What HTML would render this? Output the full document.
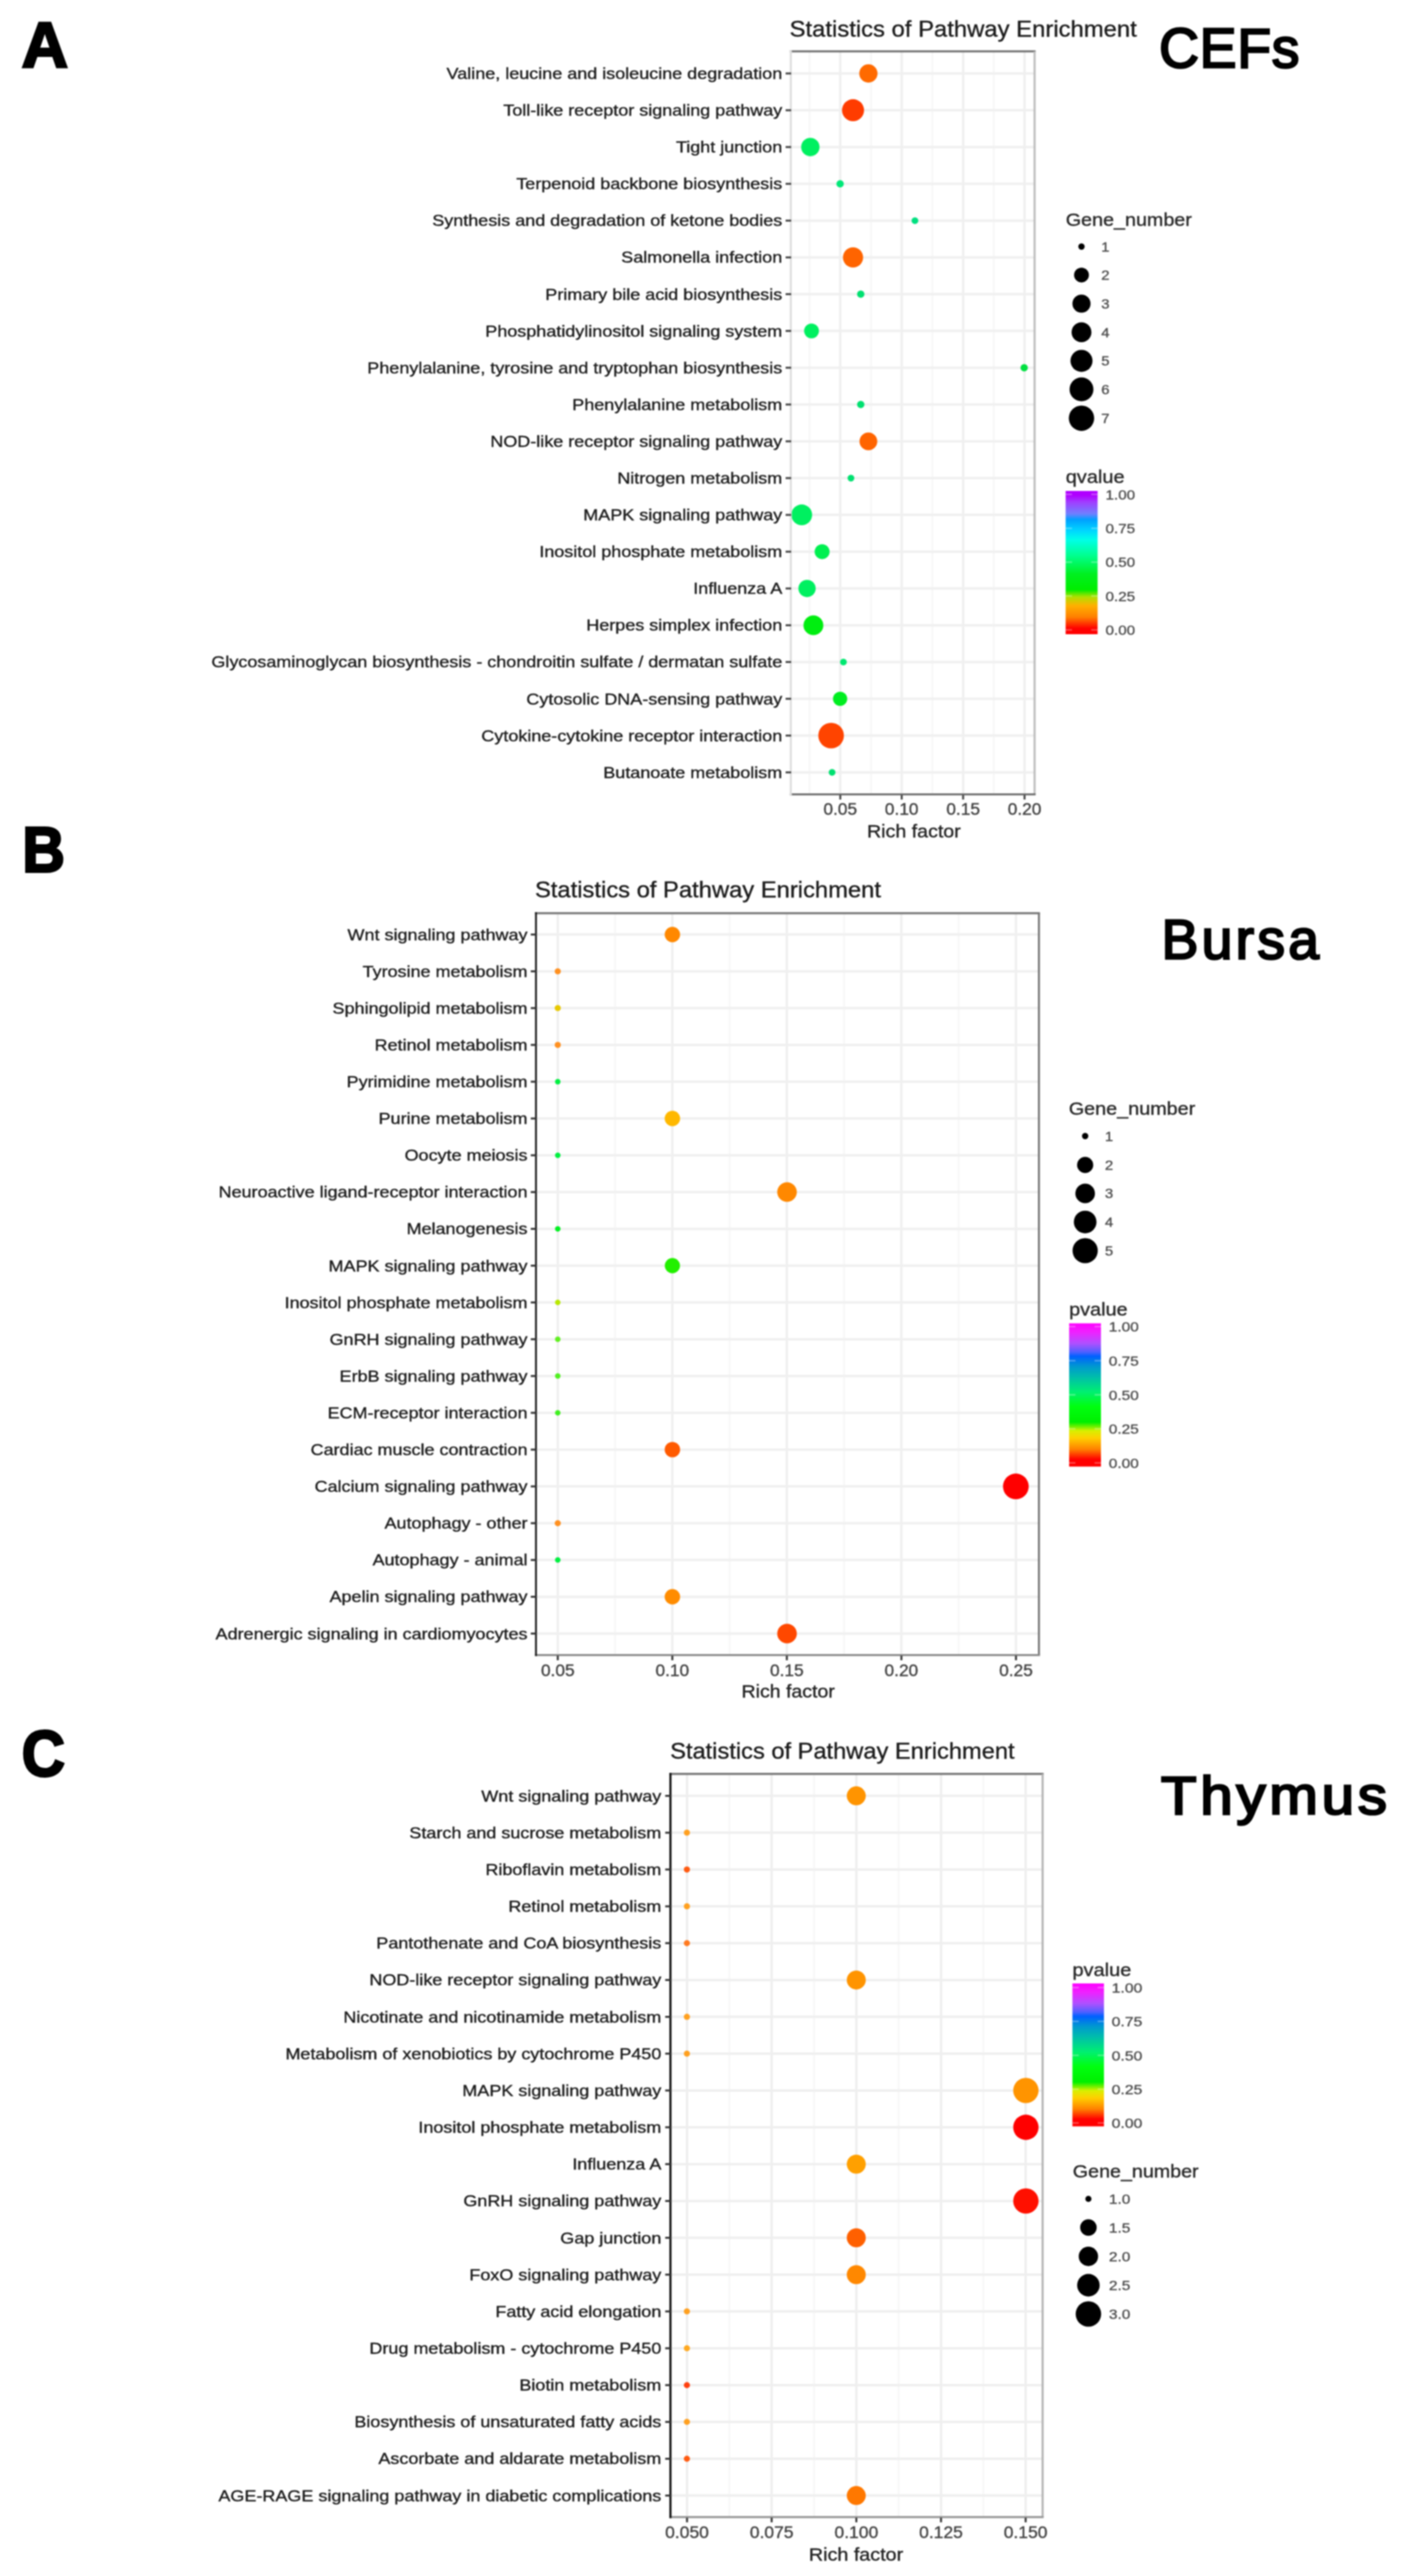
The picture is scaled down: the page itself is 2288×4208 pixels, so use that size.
<!DOCTYPE html>
<html lang="en"><head><meta charset="utf-8"><title>Statistics of Pathway Enrichment</title>
<style>html,body{margin:0;padding:0;background:#fff}body{width:2288px;height:4208px;overflow:hidden}svg{display:block;filter:blur(1px)}text{stroke-width:.5px}</style>
</head><body>
<svg width="2288" height="4208" viewBox="0 0 2288 4208" font-family='"Liberation Sans", sans-serif'>
<rect width="2288" height="4208" fill="#fff"/>
<rect x="1291.5" y="83.9" width="398.0999999999999" height="1213.6999999999998" fill="#fff"/>
<g><line x1="1322.1" y1="83.9" x2="1322.1" y2="1297.6" stroke="#f7f7f7" stroke-width="3"/><line x1="1422.5" y1="83.9" x2="1422.5" y2="1297.6" stroke="#f7f7f7" stroke-width="3"/><line x1="1522.8" y1="83.9" x2="1522.8" y2="1297.6" stroke="#f7f7f7" stroke-width="3"/><line x1="1623.0" y1="83.9" x2="1623.0" y2="1297.6" stroke="#f7f7f7" stroke-width="3"/><line x1="1372.3" y1="83.9" x2="1372.3" y2="1297.6" stroke="#f0f0f0" stroke-width="4"/><line x1="1472.6" y1="83.9" x2="1472.6" y2="1297.6" stroke="#f0f0f0" stroke-width="4"/><line x1="1572.9" y1="83.9" x2="1572.9" y2="1297.6" stroke="#f0f0f0" stroke-width="4"/><line x1="1673.2" y1="83.9" x2="1673.2" y2="1297.6" stroke="#f0f0f0" stroke-width="4"/><line x1="1291.5" y1="120.0" x2="1689.6" y2="120.0" stroke="#f0f0f0" stroke-width="4"/><line x1="1291.5" y1="180.1" x2="1689.6" y2="180.1" stroke="#f0f0f0" stroke-width="4"/><line x1="1291.5" y1="240.2" x2="1689.6" y2="240.2" stroke="#f0f0f0" stroke-width="4"/><line x1="1291.5" y1="300.3" x2="1689.6" y2="300.3" stroke="#f0f0f0" stroke-width="4"/><line x1="1291.5" y1="360.4" x2="1689.6" y2="360.4" stroke="#f0f0f0" stroke-width="4"/><line x1="1291.5" y1="420.5" x2="1689.6" y2="420.5" stroke="#f0f0f0" stroke-width="4"/><line x1="1291.5" y1="480.5" x2="1689.6" y2="480.5" stroke="#f0f0f0" stroke-width="4"/><line x1="1291.5" y1="540.6" x2="1689.6" y2="540.6" stroke="#f0f0f0" stroke-width="4"/><line x1="1291.5" y1="600.7" x2="1689.6" y2="600.7" stroke="#f0f0f0" stroke-width="4"/><line x1="1291.5" y1="660.8" x2="1689.6" y2="660.8" stroke="#f0f0f0" stroke-width="4"/><line x1="1291.5" y1="720.9" x2="1689.6" y2="720.9" stroke="#f0f0f0" stroke-width="4"/><line x1="1291.5" y1="781.0" x2="1689.6" y2="781.0" stroke="#f0f0f0" stroke-width="4"/><line x1="1291.5" y1="841.1" x2="1689.6" y2="841.1" stroke="#f0f0f0" stroke-width="4"/><line x1="1291.5" y1="901.2" x2="1689.6" y2="901.2" stroke="#f0f0f0" stroke-width="4"/><line x1="1291.5" y1="961.3" x2="1689.6" y2="961.3" stroke="#f0f0f0" stroke-width="4"/><line x1="1291.5" y1="1021.4" x2="1689.6" y2="1021.4" stroke="#f0f0f0" stroke-width="4"/><line x1="1291.5" y1="1081.4" x2="1689.6" y2="1081.4" stroke="#f0f0f0" stroke-width="4"/><line x1="1291.5" y1="1141.5" x2="1689.6" y2="1141.5" stroke="#f0f0f0" stroke-width="4"/><line x1="1291.5" y1="1201.6" x2="1689.6" y2="1201.6" stroke="#f0f0f0" stroke-width="4"/><line x1="1291.5" y1="1261.7" x2="1689.6" y2="1261.7" stroke="#f0f0f0" stroke-width="4"/></g>
<g><circle cx="1418.2" cy="120.0" r="14.9" fill="#ff6a00"/><circle cx="1393.1" cy="180.1" r="18" fill="#ff3c00"/><circle cx="1323.4" cy="240.2" r="15" fill="#00f060"/><circle cx="1372.0" cy="300.3" r="6" fill="#00e878"/><circle cx="1494.2" cy="360.4" r="5.5" fill="#00e080"/><circle cx="1393.1" cy="420.5" r="16.5" fill="#ff6400"/><circle cx="1405.7" cy="480.5" r="6" fill="#00e070"/><circle cx="1325.3" cy="540.6" r="12.1" fill="#00f060"/><circle cx="1672.6" cy="600.7" r="6" fill="#00e040"/><circle cx="1405.7" cy="660.8" r="6" fill="#00e070"/><circle cx="1418.2" cy="720.9" r="14.5" fill="#ff6400"/><circle cx="1389.7" cy="781.0" r="5.5" fill="#00e070"/><circle cx="1309.3" cy="841.1" r="17" fill="#00f060"/><circle cx="1342.6" cy="901.2" r="12.2" fill="#00f050"/><circle cx="1318.0" cy="961.3" r="14.1" fill="#00f060"/><circle cx="1328.4" cy="1021.4" r="16.2" fill="#00ee10"/><circle cx="1377.4" cy="1081.4" r="5.5" fill="#00e870"/><circle cx="1372.0" cy="1141.5" r="11.6" fill="#00ee20"/><circle cx="1357.3" cy="1201.6" r="20.9" fill="#ff4400"/><circle cx="1358.9" cy="1261.7" r="5.5" fill="#00e070"/></g>
<line x1="1289.8" y1="83.9" x2="1691.3" y2="83.9" stroke="#6e6e6e" stroke-width="3.4"/>
<line x1="1689.6" y1="83.9" x2="1689.6" y2="1297.6" stroke="#bdbdbd" stroke-width="3.4"/>
<line x1="1289.8" y1="1297.6" x2="1691.3" y2="1297.6" stroke="#6e6e6e" stroke-width="3.4"/>
<line x1="1291.5" y1="82.2" x2="1291.5" y2="1299.3" stroke="#dedede" stroke-width="3.4"/>
<g><line x1="1283.0" y1="120.0" x2="1292.0" y2="120.0" stroke="#444" stroke-width="3.2"/><line x1="1283.0" y1="180.1" x2="1292.0" y2="180.1" stroke="#444" stroke-width="3.2"/><line x1="1283.0" y1="240.2" x2="1292.0" y2="240.2" stroke="#444" stroke-width="3.2"/><line x1="1283.0" y1="300.3" x2="1292.0" y2="300.3" stroke="#444" stroke-width="3.2"/><line x1="1283.0" y1="360.4" x2="1292.0" y2="360.4" stroke="#444" stroke-width="3.2"/><line x1="1283.0" y1="420.5" x2="1292.0" y2="420.5" stroke="#444" stroke-width="3.2"/><line x1="1283.0" y1="480.5" x2="1292.0" y2="480.5" stroke="#444" stroke-width="3.2"/><line x1="1283.0" y1="540.6" x2="1292.0" y2="540.6" stroke="#444" stroke-width="3.2"/><line x1="1283.0" y1="600.7" x2="1292.0" y2="600.7" stroke="#444" stroke-width="3.2"/><line x1="1283.0" y1="660.8" x2="1292.0" y2="660.8" stroke="#444" stroke-width="3.2"/><line x1="1283.0" y1="720.9" x2="1292.0" y2="720.9" stroke="#444" stroke-width="3.2"/><line x1="1283.0" y1="781.0" x2="1292.0" y2="781.0" stroke="#444" stroke-width="3.2"/><line x1="1283.0" y1="841.1" x2="1292.0" y2="841.1" stroke="#444" stroke-width="3.2"/><line x1="1283.0" y1="901.2" x2="1292.0" y2="901.2" stroke="#444" stroke-width="3.2"/><line x1="1283.0" y1="961.3" x2="1292.0" y2="961.3" stroke="#444" stroke-width="3.2"/><line x1="1283.0" y1="1021.4" x2="1292.0" y2="1021.4" stroke="#444" stroke-width="3.2"/><line x1="1283.0" y1="1081.4" x2="1292.0" y2="1081.4" stroke="#444" stroke-width="3.2"/><line x1="1283.0" y1="1141.5" x2="1292.0" y2="1141.5" stroke="#444" stroke-width="3.2"/><line x1="1283.0" y1="1201.6" x2="1292.0" y2="1201.6" stroke="#444" stroke-width="3.2"/><line x1="1283.0" y1="1261.7" x2="1292.0" y2="1261.7" stroke="#444" stroke-width="3.2"/><line x1="1372.3" y1="1298.6" x2="1372.3" y2="1306.1" stroke="#444" stroke-width="3.2"/><line x1="1472.6" y1="1298.6" x2="1472.6" y2="1306.1" stroke="#444" stroke-width="3.2"/><line x1="1572.9" y1="1298.6" x2="1572.9" y2="1306.1" stroke="#444" stroke-width="3.2"/><line x1="1673.2" y1="1298.6" x2="1673.2" y2="1306.1" stroke="#444" stroke-width="3.2"/></g>
<g font-size="26" text-anchor="end" fill="#1a1a1a" stroke="#1a1a1a">
<text transform="translate(1277.5,129.0) scale(1.13,1)">Valine, leucine and isoleucine degradation</text>
<text transform="translate(1277.5,189.1) scale(1.13,1)">Toll-like receptor signaling pathway</text>
<text transform="translate(1277.5,249.2) scale(1.13,1)">Tight junction</text>
<text transform="translate(1277.5,309.2) scale(1.13,1)">Terpenoid backbone biosynthesis</text>
<text transform="translate(1277.5,369.3) scale(1.13,1)">Synthesis and degradation of ketone bodies</text>
<text transform="translate(1277.5,429.4) scale(1.13,1)">Salmonella infection</text>
<text transform="translate(1277.5,489.5) scale(1.13,1)">Primary bile acid biosynthesis</text>
<text transform="translate(1277.5,549.6) scale(1.13,1)">Phosphatidylinositol signaling system</text>
<text transform="translate(1277.5,609.7) scale(1.13,1)">Phenylalanine, tyrosine and tryptophan biosynthesis</text>
<text transform="translate(1277.5,669.8) scale(1.13,1)">Phenylalanine metabolism</text>
<text transform="translate(1277.5,729.9) scale(1.13,1)">NOD-like receptor signaling pathway</text>
<text transform="translate(1277.5,790.0) scale(1.13,1)">Nitrogen metabolism</text>
<text transform="translate(1277.5,850.1) scale(1.13,1)">MAPK signaling pathway</text>
<text transform="translate(1277.5,910.1) scale(1.13,1)">Inositol phosphate metabolism</text>
<text transform="translate(1277.5,970.2) scale(1.13,1)">Influenza A</text>
<text transform="translate(1277.5,1030.3) scale(1.13,1)">Herpes simplex infection</text>
<text transform="translate(1277.5,1090.4) scale(1.13,1)">Glycosaminoglycan biosynthesis - chondroitin sulfate / dermatan sulfate</text>
<text transform="translate(1277.5,1150.5) scale(1.13,1)">Cytosolic DNA-sensing pathway</text>
<text transform="translate(1277.5,1210.6) scale(1.13,1)">Cytokine-cytokine receptor interaction</text>
<text transform="translate(1277.5,1270.7) scale(1.13,1)">Butanoate metabolism</text>
</g>
<g font-size="27" fill="#404040" stroke="#404040">
<text x="1344.8" y="1331" textLength="55" lengthAdjust="spacingAndGlyphs">0.05</text>
<text x="1445.1" y="1331" textLength="55" lengthAdjust="spacingAndGlyphs">0.10</text>
<text x="1545.4" y="1331" textLength="55" lengthAdjust="spacingAndGlyphs">0.15</text>
<text x="1645.7" y="1331" textLength="55" lengthAdjust="spacingAndGlyphs">0.20</text>
</g>
<text x="1416.0" y="1367.5" font-size="29" text-anchor="start" fill="#222" stroke="#222" font-weight="normal" textLength="153.0" lengthAdjust="spacingAndGlyphs">Rich factor</text>
<text x="1289.5" y="59.5" font-size="37.5" text-anchor="start" fill="#1a1a1a" stroke="#1a1a1a" font-weight="normal" textLength="567.0" lengthAdjust="spacingAndGlyphs">Statistics of Pathway Enrichment</text>
<rect x="875.3" y="1491.8" width="821.4000000000001" height="1211.8" fill="#fff"/>
<g><line x1="1004.4" y1="1491.8" x2="1004.4" y2="2703.6" stroke="#f7f7f7" stroke-width="3"/><line x1="1191.5" y1="1491.8" x2="1191.5" y2="2703.6" stroke="#f7f7f7" stroke-width="3"/><line x1="1378.6" y1="1491.8" x2="1378.6" y2="2703.6" stroke="#f7f7f7" stroke-width="3"/><line x1="1565.6" y1="1491.8" x2="1565.6" y2="2703.6" stroke="#f7f7f7" stroke-width="3"/><line x1="910.9" y1="1491.8" x2="910.9" y2="2703.6" stroke="#f0f0f0" stroke-width="4"/><line x1="1098.0" y1="1491.8" x2="1098.0" y2="2703.6" stroke="#f0f0f0" stroke-width="4"/><line x1="1285.0" y1="1491.8" x2="1285.0" y2="2703.6" stroke="#f0f0f0" stroke-width="4"/><line x1="1472.1" y1="1491.8" x2="1472.1" y2="2703.6" stroke="#f0f0f0" stroke-width="4"/><line x1="1659.2" y1="1491.8" x2="1659.2" y2="2703.6" stroke="#f0f0f0" stroke-width="4"/><line x1="875.3" y1="1526.6" x2="1696.7" y2="1526.6" stroke="#f0f0f0" stroke-width="4"/><line x1="875.3" y1="1586.7" x2="1696.7" y2="1586.7" stroke="#f0f0f0" stroke-width="4"/><line x1="875.3" y1="1646.8" x2="1696.7" y2="1646.8" stroke="#f0f0f0" stroke-width="4"/><line x1="875.3" y1="1706.9" x2="1696.7" y2="1706.9" stroke="#f0f0f0" stroke-width="4"/><line x1="875.3" y1="1767.0" x2="1696.7" y2="1767.0" stroke="#f0f0f0" stroke-width="4"/><line x1="875.3" y1="1827.1" x2="1696.7" y2="1827.1" stroke="#f0f0f0" stroke-width="4"/><line x1="875.3" y1="1887.2" x2="1696.7" y2="1887.2" stroke="#f0f0f0" stroke-width="4"/><line x1="875.3" y1="1947.3" x2="1696.7" y2="1947.3" stroke="#f0f0f0" stroke-width="4"/><line x1="875.3" y1="2007.4" x2="1696.7" y2="2007.4" stroke="#f0f0f0" stroke-width="4"/><line x1="875.3" y1="2067.5" x2="1696.7" y2="2067.5" stroke="#f0f0f0" stroke-width="4"/><line x1="875.3" y1="2127.6" x2="1696.7" y2="2127.6" stroke="#f0f0f0" stroke-width="4"/><line x1="875.3" y1="2187.7" x2="1696.7" y2="2187.7" stroke="#f0f0f0" stroke-width="4"/><line x1="875.3" y1="2247.8" x2="1696.7" y2="2247.8" stroke="#f0f0f0" stroke-width="4"/><line x1="875.3" y1="2307.9" x2="1696.7" y2="2307.9" stroke="#f0f0f0" stroke-width="4"/><line x1="875.3" y1="2368.0" x2="1696.7" y2="2368.0" stroke="#f0f0f0" stroke-width="4"/><line x1="875.3" y1="2428.1" x2="1696.7" y2="2428.1" stroke="#f0f0f0" stroke-width="4"/><line x1="875.3" y1="2488.2" x2="1696.7" y2="2488.2" stroke="#f0f0f0" stroke-width="4"/><line x1="875.3" y1="2548.3" x2="1696.7" y2="2548.3" stroke="#f0f0f0" stroke-width="4"/><line x1="875.3" y1="2608.4" x2="1696.7" y2="2608.4" stroke="#f0f0f0" stroke-width="4"/><line x1="875.3" y1="2668.5" x2="1696.7" y2="2668.5" stroke="#f0f0f0" stroke-width="4"/></g>
<g><circle cx="1098.1" cy="1526.6" r="12.6" fill="#ff8800"/><circle cx="910.9" cy="1586.7" r="5" fill="#ff9020"/><circle cx="910.9" cy="1646.8" r="5" fill="#e8c800"/><circle cx="910.9" cy="1706.9" r="5" fill="#ff9020"/><circle cx="910.9" cy="1767.0" r="4.5" fill="#00f040"/><circle cx="1098.1" cy="1827.1" r="12.6" fill="#ffb800"/><circle cx="910.9" cy="1887.2" r="4.5" fill="#00f040"/><circle cx="1285.3" cy="1947.3" r="16" fill="#ff8800"/><circle cx="910.9" cy="2007.4" r="4.5" fill="#00f020"/><circle cx="1098.1" cy="2067.5" r="12.4" fill="#22f000"/><circle cx="910.9" cy="2127.6" r="4.5" fill="#b8e800"/><circle cx="910.9" cy="2187.7" r="4.5" fill="#60f020"/><circle cx="910.9" cy="2247.8" r="4.5" fill="#50f020"/><circle cx="910.9" cy="2307.9" r="4.5" fill="#40f020"/><circle cx="1098.1" cy="2368.0" r="12.6" fill="#ff5a00"/><circle cx="1659.0" cy="2428.1" r="21" fill="#ff0000"/><circle cx="910.9" cy="2488.2" r="5" fill="#ff9020"/><circle cx="910.9" cy="2548.3" r="4.5" fill="#00f040"/><circle cx="1098.1" cy="2608.4" r="12.6" fill="#ff8c00"/><circle cx="1285.3" cy="2668.5" r="16" fill="#ff4800"/></g>
<line x1="873.5999999999999" y1="1491.8" x2="1698.4" y2="1491.8" stroke="#7a7a7a" stroke-width="3.4"/>
<line x1="1696.7" y1="1491.8" x2="1696.7" y2="2703.6" stroke="#7a7a7a" stroke-width="3.4"/>
<line x1="873.5999999999999" y1="2703.6" x2="1698.4" y2="2703.6" stroke="#888" stroke-width="3.4"/>
<line x1="875.3" y1="1490.1" x2="875.3" y2="2705.2999999999997" stroke="#1c1c1c" stroke-width="3.1"/>
<g><line x1="866.8" y1="1526.6" x2="875.8" y2="1526.6" stroke="#333" stroke-width="3.2"/><line x1="866.8" y1="1586.7" x2="875.8" y2="1586.7" stroke="#333" stroke-width="3.2"/><line x1="866.8" y1="1646.8" x2="875.8" y2="1646.8" stroke="#333" stroke-width="3.2"/><line x1="866.8" y1="1706.9" x2="875.8" y2="1706.9" stroke="#333" stroke-width="3.2"/><line x1="866.8" y1="1767.0" x2="875.8" y2="1767.0" stroke="#333" stroke-width="3.2"/><line x1="866.8" y1="1827.1" x2="875.8" y2="1827.1" stroke="#333" stroke-width="3.2"/><line x1="866.8" y1="1887.2" x2="875.8" y2="1887.2" stroke="#333" stroke-width="3.2"/><line x1="866.8" y1="1947.3" x2="875.8" y2="1947.3" stroke="#333" stroke-width="3.2"/><line x1="866.8" y1="2007.4" x2="875.8" y2="2007.4" stroke="#333" stroke-width="3.2"/><line x1="866.8" y1="2067.5" x2="875.8" y2="2067.5" stroke="#333" stroke-width="3.2"/><line x1="866.8" y1="2127.6" x2="875.8" y2="2127.6" stroke="#333" stroke-width="3.2"/><line x1="866.8" y1="2187.7" x2="875.8" y2="2187.7" stroke="#333" stroke-width="3.2"/><line x1="866.8" y1="2247.8" x2="875.8" y2="2247.8" stroke="#333" stroke-width="3.2"/><line x1="866.8" y1="2307.9" x2="875.8" y2="2307.9" stroke="#333" stroke-width="3.2"/><line x1="866.8" y1="2368.0" x2="875.8" y2="2368.0" stroke="#333" stroke-width="3.2"/><line x1="866.8" y1="2428.1" x2="875.8" y2="2428.1" stroke="#333" stroke-width="3.2"/><line x1="866.8" y1="2488.2" x2="875.8" y2="2488.2" stroke="#333" stroke-width="3.2"/><line x1="866.8" y1="2548.3" x2="875.8" y2="2548.3" stroke="#333" stroke-width="3.2"/><line x1="866.8" y1="2608.4" x2="875.8" y2="2608.4" stroke="#333" stroke-width="3.2"/><line x1="866.8" y1="2668.5" x2="875.8" y2="2668.5" stroke="#333" stroke-width="3.2"/><line x1="910.9" y1="2704.6" x2="910.9" y2="2712.1" stroke="#333" stroke-width="3.2"/><line x1="1098.0" y1="2704.6" x2="1098.0" y2="2712.1" stroke="#333" stroke-width="3.2"/><line x1="1285.0" y1="2704.6" x2="1285.0" y2="2712.1" stroke="#333" stroke-width="3.2"/><line x1="1472.1" y1="2704.6" x2="1472.1" y2="2712.1" stroke="#333" stroke-width="3.2"/><line x1="1659.2" y1="2704.6" x2="1659.2" y2="2712.1" stroke="#333" stroke-width="3.2"/></g>
<g font-size="26" text-anchor="end" fill="#1a1a1a" stroke="#1a1a1a">
<text transform="translate(861.5,1535.6) scale(1.13,1)">Wnt signaling pathway</text>
<text transform="translate(861.5,1595.7) scale(1.13,1)">Tyrosine metabolism</text>
<text transform="translate(861.5,1655.8) scale(1.13,1)">Sphingolipid metabolism</text>
<text transform="translate(861.5,1715.9) scale(1.13,1)">Retinol metabolism</text>
<text transform="translate(861.5,1776.0) scale(1.13,1)">Pyrimidine metabolism</text>
<text transform="translate(861.5,1836.1) scale(1.13,1)">Purine metabolism</text>
<text transform="translate(861.5,1896.2) scale(1.13,1)">Oocyte meiosis</text>
<text transform="translate(861.5,1956.3) scale(1.13,1)">Neuroactive ligand-receptor interaction</text>
<text transform="translate(861.5,2016.4) scale(1.13,1)">Melanogenesis</text>
<text transform="translate(861.5,2076.5) scale(1.13,1)">MAPK signaling pathway</text>
<text transform="translate(861.5,2136.6) scale(1.13,1)">Inositol phosphate metabolism</text>
<text transform="translate(861.5,2196.7) scale(1.13,1)">GnRH signaling pathway</text>
<text transform="translate(861.5,2256.8) scale(1.13,1)">ErbB signaling pathway</text>
<text transform="translate(861.5,2316.9) scale(1.13,1)">ECM-receptor interaction</text>
<text transform="translate(861.5,2377.0) scale(1.13,1)">Cardiac muscle contraction</text>
<text transform="translate(861.5,2437.1) scale(1.13,1)">Calcium signaling pathway</text>
<text transform="translate(861.5,2497.2) scale(1.13,1)">Autophagy - other</text>
<text transform="translate(861.5,2557.3) scale(1.13,1)">Autophagy - animal</text>
<text transform="translate(861.5,2617.4) scale(1.13,1)">Apelin signaling pathway</text>
<text transform="translate(861.5,2677.5) scale(1.13,1)">Adrenergic signaling in cardiomyocytes</text>
</g>
<g font-size="27" fill="#404040" stroke="#404040">
<text x="883.4" y="2737.5" textLength="55" lengthAdjust="spacingAndGlyphs">0.05</text>
<text x="1070.5" y="2737.5" textLength="55" lengthAdjust="spacingAndGlyphs">0.10</text>
<text x="1257.5" y="2737.5" textLength="55" lengthAdjust="spacingAndGlyphs">0.15</text>
<text x="1444.6" y="2737.5" textLength="55" lengthAdjust="spacingAndGlyphs">0.20</text>
<text x="1631.7" y="2737.5" textLength="55" lengthAdjust="spacingAndGlyphs">0.25</text>
</g>
<text x="1211.0" y="2773.0" font-size="29" text-anchor="start" fill="#222" stroke="#222" font-weight="normal" textLength="152.5" lengthAdjust="spacingAndGlyphs">Rich factor</text>
<text x="873.7" y="1466.4" font-size="37.5" text-anchor="start" fill="#1a1a1a" stroke="#1a1a1a" font-weight="normal" textLength="565.0" lengthAdjust="spacingAndGlyphs">Statistics of Pathway Enrichment</text>
<rect x="1094.9" y="2897.8" width="607.8" height="1214.0" fill="#fff"/>
<g><line x1="1191.1" y1="2897.8" x2="1191.1" y2="4111.8" stroke="#f7f7f7" stroke-width="3"/><line x1="1329.4" y1="2897.8" x2="1329.4" y2="4111.8" stroke="#f7f7f7" stroke-width="3"/><line x1="1467.6" y1="2897.8" x2="1467.6" y2="4111.8" stroke="#f7f7f7" stroke-width="3"/><line x1="1605.9" y1="2897.8" x2="1605.9" y2="4111.8" stroke="#f7f7f7" stroke-width="3"/><line x1="1122.0" y1="2897.8" x2="1122.0" y2="4111.8" stroke="#efefef" stroke-width="4"/><line x1="1260.2" y1="2897.8" x2="1260.2" y2="4111.8" stroke="#efefef" stroke-width="4"/><line x1="1398.5" y1="2897.8" x2="1398.5" y2="4111.8" stroke="#efefef" stroke-width="4"/><line x1="1536.8" y1="2897.8" x2="1536.8" y2="4111.8" stroke="#efefef" stroke-width="4"/><line x1="1675.0" y1="2897.8" x2="1675.0" y2="4111.8" stroke="#efefef" stroke-width="4"/><line x1="1094.9" y1="2933.6" x2="1702.7" y2="2933.6" stroke="#efefef" stroke-width="4"/><line x1="1094.9" y1="2993.8" x2="1702.7" y2="2993.8" stroke="#efefef" stroke-width="4"/><line x1="1094.9" y1="3053.9" x2="1702.7" y2="3053.9" stroke="#efefef" stroke-width="4"/><line x1="1094.9" y1="3114.1" x2="1702.7" y2="3114.1" stroke="#efefef" stroke-width="4"/><line x1="1094.9" y1="3174.2" x2="1702.7" y2="3174.2" stroke="#efefef" stroke-width="4"/><line x1="1094.9" y1="3234.4" x2="1702.7" y2="3234.4" stroke="#efefef" stroke-width="4"/><line x1="1094.9" y1="3294.6" x2="1702.7" y2="3294.6" stroke="#efefef" stroke-width="4"/><line x1="1094.9" y1="3354.7" x2="1702.7" y2="3354.7" stroke="#efefef" stroke-width="4"/><line x1="1094.9" y1="3414.9" x2="1702.7" y2="3414.9" stroke="#efefef" stroke-width="4"/><line x1="1094.9" y1="3475.0" x2="1702.7" y2="3475.0" stroke="#efefef" stroke-width="4"/><line x1="1094.9" y1="3535.2" x2="1702.7" y2="3535.2" stroke="#efefef" stroke-width="4"/><line x1="1094.9" y1="3595.4" x2="1702.7" y2="3595.4" stroke="#efefef" stroke-width="4"/><line x1="1094.9" y1="3655.5" x2="1702.7" y2="3655.5" stroke="#efefef" stroke-width="4"/><line x1="1094.9" y1="3715.7" x2="1702.7" y2="3715.7" stroke="#efefef" stroke-width="4"/><line x1="1094.9" y1="3775.8" x2="1702.7" y2="3775.8" stroke="#efefef" stroke-width="4"/><line x1="1094.9" y1="3836.0" x2="1702.7" y2="3836.0" stroke="#efefef" stroke-width="4"/><line x1="1094.9" y1="3896.2" x2="1702.7" y2="3896.2" stroke="#efefef" stroke-width="4"/><line x1="1094.9" y1="3956.3" x2="1702.7" y2="3956.3" stroke="#efefef" stroke-width="4"/><line x1="1094.9" y1="4016.5" x2="1702.7" y2="4016.5" stroke="#efefef" stroke-width="4"/><line x1="1094.9" y1="4076.6" x2="1702.7" y2="4076.6" stroke="#efefef" stroke-width="4"/></g>
<g><circle cx="1398.4" cy="2933.6" r="15.5" fill="#ff9400"/><circle cx="1121.8" cy="2993.8" r="5" fill="#ffa020"/><circle cx="1121.8" cy="3053.9" r="5" fill="#ff5a10"/><circle cx="1121.8" cy="3114.1" r="5" fill="#ffa020"/><circle cx="1121.8" cy="3174.2" r="5" fill="#ff7a20"/><circle cx="1398.4" cy="3234.4" r="15.5" fill="#ff9400"/><circle cx="1121.8" cy="3294.6" r="5" fill="#ffa020"/><circle cx="1121.8" cy="3354.7" r="5" fill="#ffa020"/><circle cx="1675.4" cy="3414.9" r="20.7" fill="#ff9400"/><circle cx="1675.4" cy="3475.0" r="20.7" fill="#ff0000"/><circle cx="1398.4" cy="3535.2" r="15.5" fill="#ffa000"/><circle cx="1675.4" cy="3595.4" r="20.7" fill="#ff1000"/><circle cx="1398.4" cy="3655.5" r="15.5" fill="#ff6000"/><circle cx="1398.4" cy="3715.7" r="15.5" fill="#ff8800"/><circle cx="1121.8" cy="3775.8" r="5" fill="#ffa020"/><circle cx="1121.8" cy="3836.0" r="5" fill="#ffa820"/><circle cx="1121.8" cy="3896.2" r="5" fill="#ff4010"/><circle cx="1121.8" cy="3956.3" r="5" fill="#ffa020"/><circle cx="1121.8" cy="4016.5" r="5" fill="#ff5a10"/><circle cx="1398.4" cy="4076.6" r="15.5" fill="#ff7800"/></g>
<line x1="1093.2" y1="2897.8" x2="1704.4" y2="2897.8" stroke="#777" stroke-width="3.4"/>
<line x1="1702.7" y1="2897.8" x2="1702.7" y2="4111.8" stroke="#b4b4b4" stroke-width="3.4"/>
<line x1="1093.2" y1="4111.8" x2="1704.4" y2="4111.8" stroke="#999" stroke-width="3.4"/>
<line x1="1094.9" y1="2896.1000000000004" x2="1094.9" y2="4113.5" stroke="#111" stroke-width="3.5"/>
<g><line x1="1086.4" y1="2933.6" x2="1095.4" y2="2933.6" stroke="#333" stroke-width="3.2"/><line x1="1086.4" y1="2993.8" x2="1095.4" y2="2993.8" stroke="#333" stroke-width="3.2"/><line x1="1086.4" y1="3053.9" x2="1095.4" y2="3053.9" stroke="#333" stroke-width="3.2"/><line x1="1086.4" y1="3114.1" x2="1095.4" y2="3114.1" stroke="#333" stroke-width="3.2"/><line x1="1086.4" y1="3174.2" x2="1095.4" y2="3174.2" stroke="#333" stroke-width="3.2"/><line x1="1086.4" y1="3234.4" x2="1095.4" y2="3234.4" stroke="#333" stroke-width="3.2"/><line x1="1086.4" y1="3294.6" x2="1095.4" y2="3294.6" stroke="#333" stroke-width="3.2"/><line x1="1086.4" y1="3354.7" x2="1095.4" y2="3354.7" stroke="#333" stroke-width="3.2"/><line x1="1086.4" y1="3414.9" x2="1095.4" y2="3414.9" stroke="#333" stroke-width="3.2"/><line x1="1086.4" y1="3475.0" x2="1095.4" y2="3475.0" stroke="#333" stroke-width="3.2"/><line x1="1086.4" y1="3535.2" x2="1095.4" y2="3535.2" stroke="#333" stroke-width="3.2"/><line x1="1086.4" y1="3595.4" x2="1095.4" y2="3595.4" stroke="#333" stroke-width="3.2"/><line x1="1086.4" y1="3655.5" x2="1095.4" y2="3655.5" stroke="#333" stroke-width="3.2"/><line x1="1086.4" y1="3715.7" x2="1095.4" y2="3715.7" stroke="#333" stroke-width="3.2"/><line x1="1086.4" y1="3775.8" x2="1095.4" y2="3775.8" stroke="#333" stroke-width="3.2"/><line x1="1086.4" y1="3836.0" x2="1095.4" y2="3836.0" stroke="#333" stroke-width="3.2"/><line x1="1086.4" y1="3896.2" x2="1095.4" y2="3896.2" stroke="#333" stroke-width="3.2"/><line x1="1086.4" y1="3956.3" x2="1095.4" y2="3956.3" stroke="#333" stroke-width="3.2"/><line x1="1086.4" y1="4016.5" x2="1095.4" y2="4016.5" stroke="#333" stroke-width="3.2"/><line x1="1086.4" y1="4076.6" x2="1095.4" y2="4076.6" stroke="#333" stroke-width="3.2"/><line x1="1122.0" y1="4112.8" x2="1122.0" y2="4120.3" stroke="#333" stroke-width="3.2"/><line x1="1260.2" y1="4112.8" x2="1260.2" y2="4120.3" stroke="#333" stroke-width="3.2"/><line x1="1398.5" y1="4112.8" x2="1398.5" y2="4120.3" stroke="#333" stroke-width="3.2"/><line x1="1536.8" y1="4112.8" x2="1536.8" y2="4120.3" stroke="#333" stroke-width="3.2"/><line x1="1675.0" y1="4112.8" x2="1675.0" y2="4120.3" stroke="#333" stroke-width="3.2"/></g>
<g font-size="26" text-anchor="end" fill="#1a1a1a" stroke="#1a1a1a">
<text transform="translate(1080,2942.6) scale(1.13,1)">Wnt signaling pathway</text>
<text transform="translate(1080,3002.7) scale(1.13,1)">Starch and sucrose metabolism</text>
<text transform="translate(1080,3062.9) scale(1.13,1)">Riboflavin metabolism</text>
<text transform="translate(1080,3123.0) scale(1.13,1)">Retinol metabolism</text>
<text transform="translate(1080,3183.2) scale(1.13,1)">Pantothenate and CoA biosynthesis</text>
<text transform="translate(1080,3243.4) scale(1.13,1)">NOD-like receptor signaling pathway</text>
<text transform="translate(1080,3303.5) scale(1.13,1)">Nicotinate and nicotinamide metabolism</text>
<text transform="translate(1080,3363.7) scale(1.13,1)">Metabolism of xenobiotics by cytochrome P450</text>
<text transform="translate(1080,3423.8) scale(1.13,1)">MAPK signaling pathway</text>
<text transform="translate(1080,3484.0) scale(1.13,1)">Inositol phosphate metabolism</text>
<text transform="translate(1080,3544.2) scale(1.13,1)">Influenza A</text>
<text transform="translate(1080,3604.3) scale(1.13,1)">GnRH signaling pathway</text>
<text transform="translate(1080,3664.5) scale(1.13,1)">Gap junction</text>
<text transform="translate(1080,3724.6) scale(1.13,1)">FoxO signaling pathway</text>
<text transform="translate(1080,3784.8) scale(1.13,1)">Fatty acid elongation</text>
<text transform="translate(1080,3845.0) scale(1.13,1)">Drug metabolism - cytochrome P450</text>
<text transform="translate(1080,3905.1) scale(1.13,1)">Biotin metabolism</text>
<text transform="translate(1080,3965.3) scale(1.13,1)">Biosynthesis of unsaturated fatty acids</text>
<text transform="translate(1080,4025.4) scale(1.13,1)">Ascorbate and aldarate metabolism</text>
<text transform="translate(1080,4085.6) scale(1.13,1)">AGE-RAGE signaling pathway in diabetic complications</text>
</g>
<g font-size="27" fill="#404040" stroke="#404040">
<text x="1086.2" y="4146" textLength="71.5" lengthAdjust="spacingAndGlyphs">0.050</text>
<text x="1224.5" y="4146" textLength="71.5" lengthAdjust="spacingAndGlyphs">0.075</text>
<text x="1362.8" y="4146" textLength="71.5" lengthAdjust="spacingAndGlyphs">0.100</text>
<text x="1501.0" y="4146" textLength="71.5" lengthAdjust="spacingAndGlyphs">0.125</text>
<text x="1639.2" y="4146" textLength="71.5" lengthAdjust="spacingAndGlyphs">0.150</text>
</g>
<text x="1321.0" y="4183.0" font-size="29" text-anchor="start" fill="#222" stroke="#222" font-weight="normal" textLength="154.0" lengthAdjust="spacingAndGlyphs">Rich factor</text>
<text x="1094.4" y="2872.9" font-size="37.5" text-anchor="start" fill="#1a1a1a" stroke="#1a1a1a" font-weight="normal" textLength="562.5" lengthAdjust="spacingAndGlyphs">Statistics of Pathway Enrichment</text>
<text x="35.5" y="109.2" font-size="103" text-anchor="start" fill="#000" stroke="#000" font-weight="bold" textLength="75.5" lengthAdjust="spacingAndGlyphs" style="stroke-width:4px;stroke-linejoin:miter;stroke-miterlimit:3">A</text>
<text x="36.5" y="1424.0" font-size="103.5" text-anchor="start" fill="#000" stroke="#000" font-weight="bold" textLength="69.5" lengthAdjust="spacingAndGlyphs" style="stroke-width:4px;stroke-linejoin:miter;stroke-miterlimit:3">B</text>
<text x="35.5" y="2901.0" font-size="105" text-anchor="start" fill="#000" stroke="#000" font-weight="bold" textLength="70.5" lengthAdjust="spacingAndGlyphs" style="stroke-width:4px;stroke-linejoin:miter;stroke-miterlimit:3">C</text>
<text transform="translate(1893,110.2) scale(1.0,1)" font-size="90" fill="#000" stroke="#000" textLength="229.0" lengthAdjust="spacing" style="stroke-width:3.6px;stroke-linejoin:miter;stroke-miterlimit:3">CEFs</text>
<text transform="translate(1897,1565.7) scale(1.0,1)" font-size="90" fill="#000" stroke="#000" textLength="257.0" lengthAdjust="spacing" style="stroke-width:3.6px;stroke-linejoin:miter;stroke-miterlimit:3">Bursa</text>
<text transform="translate(1896,2962.6) scale(1.08,1)" font-size="88" fill="#000" stroke="#000" textLength="341.7" lengthAdjust="spacing" style="stroke-width:3.6px;stroke-linejoin:miter;stroke-miterlimit:3">Thymus</text>
<text x="1740.5" y="369.2" font-size="29.5" text-anchor="start" fill="#262626" stroke="#262626" font-weight="normal" textLength="206.0" lengthAdjust="spacingAndGlyphs">Gene_number</text>
<circle cx="1766.2" cy="402.8" r="5.2" fill="#000"/>
<text x="1798.5" y="410.7" font-size="22" text-anchor="start" fill="#4d4d4d" stroke="#4d4d4d" font-weight="normal" textLength="13.5" lengthAdjust="spacingAndGlyphs">1</text>
<circle cx="1766.2" cy="449.3" r="12.1" fill="#000"/>
<text x="1798.5" y="457.2" font-size="22" text-anchor="start" fill="#4d4d4d" stroke="#4d4d4d" font-weight="normal" textLength="13.5" lengthAdjust="spacingAndGlyphs">2</text>
<circle cx="1766.2" cy="496" r="14.8" fill="#000"/>
<text x="1798.5" y="503.9" font-size="22" text-anchor="start" fill="#4d4d4d" stroke="#4d4d4d" font-weight="normal" textLength="13.5" lengthAdjust="spacingAndGlyphs">3</text>
<circle cx="1766.2" cy="542.7" r="16.2" fill="#000"/>
<text x="1798.5" y="550.6" font-size="22" text-anchor="start" fill="#4d4d4d" stroke="#4d4d4d" font-weight="normal" textLength="13.5" lengthAdjust="spacingAndGlyphs">4</text>
<circle cx="1766.2" cy="589.4" r="18" fill="#000"/>
<text x="1798.5" y="597.3" font-size="22" text-anchor="start" fill="#4d4d4d" stroke="#4d4d4d" font-weight="normal" textLength="13.5" lengthAdjust="spacingAndGlyphs">5</text>
<circle cx="1766.2" cy="636" r="19.5" fill="#000"/>
<text x="1798.5" y="643.9" font-size="22" text-anchor="start" fill="#4d4d4d" stroke="#4d4d4d" font-weight="normal" textLength="13.5" lengthAdjust="spacingAndGlyphs">6</text>
<circle cx="1766.2" cy="683.2" r="20.7" fill="#000"/>
<text x="1798.5" y="691.1" font-size="22" text-anchor="start" fill="#4d4d4d" stroke="#4d4d4d" font-weight="normal" textLength="13.5" lengthAdjust="spacingAndGlyphs">7</text>
<defs><linearGradient id="gA" x1="0" y1="1" x2="0" y2="0">
<stop offset="0" stop-color="#ff0000"/>
<stop offset="0.04" stop-color="#ff0000"/>
<stop offset="0.12" stop-color="#ff8000"/>
<stop offset="0.2" stop-color="#ffb000"/>
<stop offset="0.26" stop-color="#b0e000"/>
<stop offset="0.31" stop-color="#00ee00"/>
<stop offset="0.42" stop-color="#00f020"/>
<stop offset="0.55" stop-color="#00ff90"/>
<stop offset="0.66" stop-color="#00ffe8"/>
<stop offset="0.72" stop-color="#00d8ff"/>
<stop offset="0.8" stop-color="#00a0ff"/>
<stop offset="0.84" stop-color="#7080ff"/>
<stop offset="0.92" stop-color="#a040ff"/>
<stop offset="0.97" stop-color="#b000ff"/>
<stop offset="1" stop-color="#b000ff"/>
</linearGradient></defs>
<rect x="1740.3" y="802" width="52.2" height="234" fill="url(#gA)"/>
<text x="1740.5" y="789.0" font-size="30" text-anchor="start" fill="#262626" stroke="#262626" font-weight="normal" textLength="96.0" lengthAdjust="spacingAndGlyphs">qvalue</text>
<path d="M1740.3 807.6h10.4M1792.5 807.6h-10.4" stroke="#fff" stroke-opacity="0.3" stroke-width="2.5"/>
<text x="1805.5" y="815.7" font-size="22.5" text-anchor="start" fill="#4d4d4d" stroke="#4d4d4d" font-weight="normal" textLength="48.2" lengthAdjust="spacingAndGlyphs">1.00</text>
<path d="M1740.3 863.0h10.4M1792.5 863.0h-10.4" stroke="#fff" stroke-opacity="0.3" stroke-width="2.5"/>
<text x="1805.5" y="871.1" font-size="22.5" text-anchor="start" fill="#4d4d4d" stroke="#4d4d4d" font-weight="normal" textLength="48.2" lengthAdjust="spacingAndGlyphs">0.75</text>
<path d="M1740.3 918.3h10.4M1792.5 918.3h-10.4" stroke="#fff" stroke-opacity="0.3" stroke-width="2.5"/>
<text x="1805.5" y="926.4" font-size="22.5" text-anchor="start" fill="#4d4d4d" stroke="#4d4d4d" font-weight="normal" textLength="48.2" lengthAdjust="spacingAndGlyphs">0.50</text>
<path d="M1740.3 973.6h10.4M1792.5 973.6h-10.4" stroke="#fff" stroke-opacity="0.3" stroke-width="2.5"/>
<text x="1805.5" y="981.8" font-size="22.5" text-anchor="start" fill="#4d4d4d" stroke="#4d4d4d" font-weight="normal" textLength="48.2" lengthAdjust="spacingAndGlyphs">0.25</text>
<path d="M1740.3 1029.0h10.4M1792.5 1029.0h-10.4" stroke="#fff" stroke-opacity="0.3" stroke-width="2.5"/>
<text x="1805.5" y="1037.1" font-size="22.5" text-anchor="start" fill="#4d4d4d" stroke="#4d4d4d" font-weight="normal" textLength="48.2" lengthAdjust="spacingAndGlyphs">0.00</text>
<text x="1745.5" y="1821.2" font-size="29.5" text-anchor="start" fill="#262626" stroke="#262626" font-weight="normal" textLength="206.5" lengthAdjust="spacingAndGlyphs">Gene_number</text>
<circle cx="1772.2" cy="1855.7" r="5.2" fill="#000"/>
<text x="1804.5" y="1863.6" font-size="22" text-anchor="start" fill="#4d4d4d" stroke="#4d4d4d" font-weight="normal" textLength="13.5" lengthAdjust="spacingAndGlyphs">1</text>
<circle cx="1772.2" cy="1903" r="13.2" fill="#000"/>
<text x="1804.5" y="1910.9" font-size="22" text-anchor="start" fill="#4d4d4d" stroke="#4d4d4d" font-weight="normal" textLength="13.5" lengthAdjust="spacingAndGlyphs">2</text>
<circle cx="1772.2" cy="1949.5" r="16" fill="#000"/>
<text x="1804.5" y="1957.4" font-size="22" text-anchor="start" fill="#4d4d4d" stroke="#4d4d4d" font-weight="normal" textLength="13.5" lengthAdjust="spacingAndGlyphs">3</text>
<circle cx="1772.2" cy="1996.2" r="18.5" fill="#000"/>
<text x="1804.5" y="2004.1" font-size="22" text-anchor="start" fill="#4d4d4d" stroke="#4d4d4d" font-weight="normal" textLength="13.5" lengthAdjust="spacingAndGlyphs">4</text>
<circle cx="1772.2" cy="2043" r="20.6" fill="#000"/>
<text x="1804.5" y="2050.9" font-size="22" text-anchor="start" fill="#4d4d4d" stroke="#4d4d4d" font-weight="normal" textLength="13.5" lengthAdjust="spacingAndGlyphs">5</text>
<defs><linearGradient id="gB" x1="0" y1="1" x2="0" y2="0">
<stop offset="0" stop-color="#ff0000"/>
<stop offset="0.05" stop-color="#ff0000"/>
<stop offset="0.12" stop-color="#ff8000"/>
<stop offset="0.2" stop-color="#ffd000"/>
<stop offset="0.25" stop-color="#d8f000"/>
<stop offset="0.31" stop-color="#00f000"/>
<stop offset="0.42" stop-color="#00ff10"/>
<stop offset="0.52" stop-color="#00f070"/>
<stop offset="0.62" stop-color="#00c0a8"/>
<stop offset="0.7" stop-color="#0098d0"/>
<stop offset="0.77" stop-color="#0060ff"/>
<stop offset="0.8" stop-color="#5060ff"/>
<stop offset="0.86" stop-color="#b050ff"/>
<stop offset="0.94" stop-color="#f020ff"/>
<stop offset="1" stop-color="#ff00ff"/>
</linearGradient></defs>
<rect x="1746" y="2161.7" width="52" height="234" fill="url(#gB)"/>
<text x="1746.0" y="2149.0" font-size="30" text-anchor="start" fill="#262626" stroke="#262626" font-weight="normal" textLength="95.5" lengthAdjust="spacingAndGlyphs">pvalue</text>
<path d="M1746 2167.0h10.4M1798 2167.0h-10.4" stroke="#fff" stroke-opacity="0.3" stroke-width="2.5"/>
<text x="1810.8" y="2175.1" font-size="22.5" text-anchor="start" fill="#4d4d4d" stroke="#4d4d4d" font-weight="normal" textLength="49.0" lengthAdjust="spacingAndGlyphs">1.00</text>
<path d="M1746 2222.7h10.4M1798 2222.7h-10.4" stroke="#fff" stroke-opacity="0.3" stroke-width="2.5"/>
<text x="1810.8" y="2230.8" font-size="22.5" text-anchor="start" fill="#4d4d4d" stroke="#4d4d4d" font-weight="normal" textLength="49.0" lengthAdjust="spacingAndGlyphs">0.75</text>
<path d="M1746 2278.4h10.4M1798 2278.4h-10.4" stroke="#fff" stroke-opacity="0.3" stroke-width="2.5"/>
<text x="1810.8" y="2286.5" font-size="22.5" text-anchor="start" fill="#4d4d4d" stroke="#4d4d4d" font-weight="normal" textLength="49.0" lengthAdjust="spacingAndGlyphs">0.50</text>
<path d="M1746 2334.1h10.4M1798 2334.1h-10.4" stroke="#fff" stroke-opacity="0.3" stroke-width="2.5"/>
<text x="1810.8" y="2342.2" font-size="22.5" text-anchor="start" fill="#4d4d4d" stroke="#4d4d4d" font-weight="normal" textLength="49.0" lengthAdjust="spacingAndGlyphs">0.25</text>
<path d="M1746 2389.8h10.4M1798 2389.8h-10.4" stroke="#fff" stroke-opacity="0.3" stroke-width="2.5"/>
<text x="1810.8" y="2397.9" font-size="22.5" text-anchor="start" fill="#4d4d4d" stroke="#4d4d4d" font-weight="normal" textLength="49.0" lengthAdjust="spacingAndGlyphs">0.00</text>
<defs><linearGradient id="gC" x1="0" y1="1" x2="0" y2="0">
<stop offset="0" stop-color="#ff0000"/>
<stop offset="0.05" stop-color="#ff0000"/>
<stop offset="0.12" stop-color="#ff8000"/>
<stop offset="0.2" stop-color="#ffd000"/>
<stop offset="0.25" stop-color="#d8f000"/>
<stop offset="0.31" stop-color="#00f000"/>
<stop offset="0.42" stop-color="#00ff10"/>
<stop offset="0.52" stop-color="#00f070"/>
<stop offset="0.62" stop-color="#00c0a8"/>
<stop offset="0.7" stop-color="#0098d0"/>
<stop offset="0.77" stop-color="#0060ff"/>
<stop offset="0.8" stop-color="#5060ff"/>
<stop offset="0.86" stop-color="#b050ff"/>
<stop offset="0.94" stop-color="#f020ff"/>
<stop offset="1" stop-color="#ff00ff"/>
</linearGradient></defs>
<rect x="1751.4" y="3240" width="51.5" height="233.5" fill="url(#gC)"/>
<text x="1751.5" y="3227.5" font-size="30" text-anchor="start" fill="#262626" stroke="#262626" font-weight="normal" textLength="96.0" lengthAdjust="spacingAndGlyphs">pvalue</text>
<path d="M1751.4 3246.8h10.3M1802.9 3246.8h-10.3" stroke="#fff" stroke-opacity="0.3" stroke-width="2.5"/>
<text x="1815.6" y="3254.9" font-size="22.5" text-anchor="start" fill="#4d4d4d" stroke="#4d4d4d" font-weight="normal" textLength="49.9" lengthAdjust="spacingAndGlyphs">1.00</text>
<path d="M1751.4 3302.1h10.3M1802.9 3302.1h-10.3" stroke="#fff" stroke-opacity="0.3" stroke-width="2.5"/>
<text x="1815.6" y="3310.2" font-size="22.5" text-anchor="start" fill="#4d4d4d" stroke="#4d4d4d" font-weight="normal" textLength="49.9" lengthAdjust="spacingAndGlyphs">0.75</text>
<path d="M1751.4 3357.4h10.3M1802.9 3357.4h-10.3" stroke="#fff" stroke-opacity="0.3" stroke-width="2.5"/>
<text x="1815.6" y="3365.5" font-size="22.5" text-anchor="start" fill="#4d4d4d" stroke="#4d4d4d" font-weight="normal" textLength="49.9" lengthAdjust="spacingAndGlyphs">0.50</text>
<path d="M1751.4 3412.7h10.3M1802.9 3412.7h-10.3" stroke="#fff" stroke-opacity="0.3" stroke-width="2.5"/>
<text x="1815.6" y="3420.8" font-size="22.5" text-anchor="start" fill="#4d4d4d" stroke="#4d4d4d" font-weight="normal" textLength="49.9" lengthAdjust="spacingAndGlyphs">0.25</text>
<path d="M1751.4 3468.0h10.3M1802.9 3468.0h-10.3" stroke="#fff" stroke-opacity="0.3" stroke-width="2.5"/>
<text x="1815.6" y="3476.1" font-size="22.5" text-anchor="start" fill="#4d4d4d" stroke="#4d4d4d" font-weight="normal" textLength="49.9" lengthAdjust="spacingAndGlyphs">0.00</text>
<text x="1752.0" y="3556.7" font-size="29.5" text-anchor="start" fill="#262626" stroke="#262626" font-weight="normal" textLength="205.5" lengthAdjust="spacingAndGlyphs">Gene_number</text>
<circle cx="1777.5" cy="3592" r="5" fill="#000"/>
<text x="1811.0" y="3600.1" font-size="22.5" text-anchor="start" fill="#4d4d4d" stroke="#4d4d4d" font-weight="normal" textLength="35.0" lengthAdjust="spacingAndGlyphs">1.0</text>
<circle cx="1777.5" cy="3638.8" r="13.5" fill="#000"/>
<text x="1811.0" y="3646.9" font-size="22.5" text-anchor="start" fill="#4d4d4d" stroke="#4d4d4d" font-weight="normal" textLength="35.0" lengthAdjust="spacingAndGlyphs">1.5</text>
<circle cx="1777.5" cy="3685.9" r="15.8" fill="#000"/>
<text x="1811.0" y="3694.0" font-size="22.5" text-anchor="start" fill="#4d4d4d" stroke="#4d4d4d" font-weight="normal" textLength="35.0" lengthAdjust="spacingAndGlyphs">2.0</text>
<circle cx="1777.5" cy="3733" r="18.4" fill="#000"/>
<text x="1811.0" y="3741.1" font-size="22.5" text-anchor="start" fill="#4d4d4d" stroke="#4d4d4d" font-weight="normal" textLength="35.0" lengthAdjust="spacingAndGlyphs">2.5</text>
<circle cx="1777.5" cy="3780" r="20.8" fill="#000"/>
<text x="1811.0" y="3788.1" font-size="22.5" text-anchor="start" fill="#4d4d4d" stroke="#4d4d4d" font-weight="normal" textLength="35.0" lengthAdjust="spacingAndGlyphs">3.0</text>
</svg>
</body></html>
